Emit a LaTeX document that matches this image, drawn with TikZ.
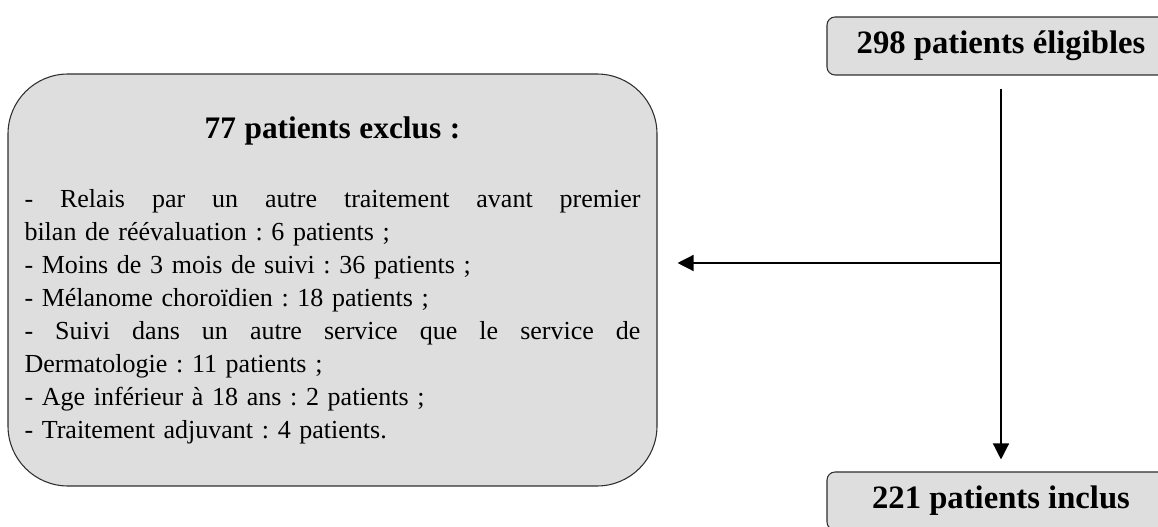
\documentclass[tikz,border=0pt]{standalone}
\usepackage{fontspec}
\setmainfont{Liberation Serif}
\usetikzlibrary{arrows.meta,positioning,calc}
\definecolor{BoxFill}{HTML}{DEDEDE}
\definecolor{BoxLine}{HTML}{2E2E2E}
\newcommand{\HeadFont}{\fontsize{24.5}{28}\selectfont\bfseries}
\newcommand{\TitleFont}{\fontsize{23.5}{27}\selectfont\bfseries}
\newcommand{\ListFont}{\fontsize{19.5}{24.75}\selectfont\frenchspacing}
% a justified line, spaces spread to the full text width
\newcommand{\FullLine}[1]{\leavevmode\hbox to 462pt{\spaceskip=.25em plus 1fil\relax #1}}
\tikzset{
  count box/.style={draw=BoxLine,fill=BoxFill,line width=0.8pt,rounded corners=6pt,
    minimum width=261pt,minimum height=43.5pt,inner sep=0pt,font=\HeadFont},
  exclusion box/.style={draw=BoxLine,fill=BoxFill,line width=0.8pt,rounded corners=45pt,
    minimum width=486.75pt,minimum height=309pt,inner sep=0pt},
  flow arrow/.style={draw=black,line width=1pt,-{Triangle[length=12pt,width=12pt]}}
}
\begin{document}
\begin{tikzpicture}[x=0.75pt,y=-0.75pt]
  % 1 unit = 1 px of the 1158 x 527 layout, y pointing down
  \path[use as bounding box] (0,0) rectangle (1158,527);

  \node[count box] (eligible) at (1001,46) {298 patients éligibles};
  \node[count box] (included) at (1001,501) {221 patients inclus};

  \node[exclusion box,text width=462pt,align=left,font=\ListFont] (excluded) at (332.5,280) {%
    \leavevmode\hbox to 462pt{\hfil\TitleFont 77 patients exclus :\hfil}\\[27pt]
    \FullLine{- Relais par un autre traitement avant premier}\\
    bilan de réévaluation : 6 patients ;\\
    - Moins de 3 mois de suivi : 36 patients ;\\
    - Mélanome choroïdien : 18 patients ;\\
    \FullLine{- Suivi dans un autre service que le service de}\\
    Dermatologie : 11 patients ;\\
    - Age inférieur à 18 ans : 2 patients ;\\
    - Traitement adjuvant : 4 patients.};

  \coordinate (split) at (eligible.south |- 0,263);
  \draw[flow arrow,shorten <=9.75pt,shorten >=9pt] (eligible.south) -- (included.north);
  \draw[flow arrow,shorten >=15pt] (split) -- (split -| excluded.east);
\end{tikzpicture}
\end{document}
